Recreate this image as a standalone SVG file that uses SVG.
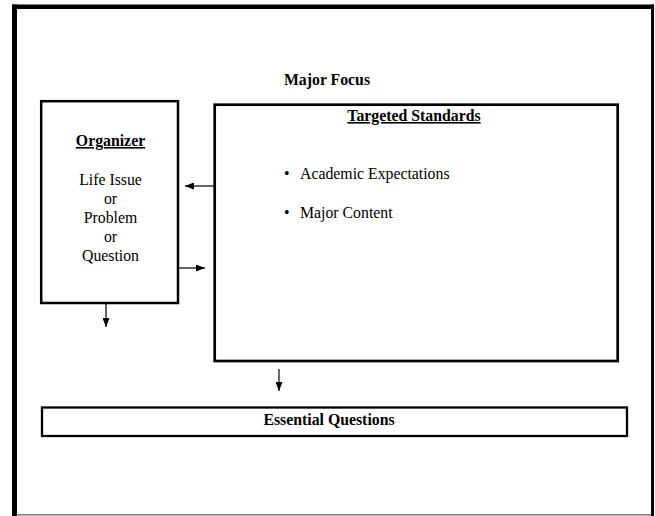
<svg xmlns="http://www.w3.org/2000/svg" width="655" height="516" viewBox="0 0 655 516">
  <style>
    .box { fill: #fff; stroke: #000; stroke-width: 2.5; }
    .t { font-family: "Liberation Serif", "Times New Roman", serif; font-size: 15.8px; fill: #000; }
    .b { font-weight: bold; }
    .c { text-anchor: middle; }
    .u { text-decoration: underline; }
    .link { stroke: #000; stroke-width: 1.2; fill: none; marker-end: url(#head); }
  </style>
  <defs>
    <marker id="head" viewBox="0 0 9 7" refX="9" refY="3.5" markerWidth="9" markerHeight="7" markerUnits="userSpaceOnUse" orient="auto">
      <path d="M0,0 L9,3.5 L0,7 Z" fill="#000"/>
    </marker>
  </defs>

  <rect width="655" height="516" fill="#fff"/>

  <!-- page frame -->
  <g id="frame">
    <line x1="14.5" y1="4.5" x2="14.5" y2="516" stroke="#000" stroke-width="5"/>
    <line x1="12" y1="6.8" x2="654" y2="6.8" stroke="#000" stroke-width="4.5"/>
    <line x1="652.5" y1="4.5" x2="652.5" y2="516" stroke="#000" stroke-width="3"/>
    <line x1="17" y1="514.8" x2="651" y2="514.8" stroke="#777" stroke-width="1.5"/>
  </g>

  <g id="title">
    <text class="t b c" x="327" y="85">Major Focus</text>
  </g>

  <g id="organizer">
    <rect class="box" x="41.2" y="101.2" width="136.8" height="201.8"/>
    <text class="t b c u" x="110.5" y="146">Organizer</text>
    <text class="t c" x="110.5" y="185">Life Issue</text>
    <text class="t c" x="110.5" y="204">or</text>
    <text class="t c" x="110.5" y="223">Problem</text>
    <text class="t c" x="110.5" y="242">or</text>
    <text class="t c" x="110.5" y="261">Question</text>
  </g>

  <g id="targeted-standards">
    <rect class="box" x="214.7" y="104.7" width="403" height="256.3" style="stroke-width:2.7"/>
    <text class="t b c u" x="414" y="121">Targeted Standards</text>
    <text class="t" x="284" y="179">•</text>
    <text class="t" x="300" y="179">Academic Expectations</text>
    <text class="t" x="284" y="218">•</text>
    <text class="t" x="300" y="218">Major Content</text>
  </g>

  <g id="essential-questions">
    <rect class="box" x="42" y="407.5" width="585" height="28.5" style="stroke-width:2.3"/>
    <text class="t b c" x="329" y="425">Essential Questions</text>
  </g>

  <g id="connectors">
    <line class="link" x1="214" y1="186" x2="185" y2="186"/>
    <line class="link" x1="178" y1="268" x2="205" y2="268"/>
    <line class="link" x1="106" y1="304" x2="106" y2="327"/>
    <line class="link" x1="279" y1="369" x2="279" y2="391"/>
  </g>
</svg>
